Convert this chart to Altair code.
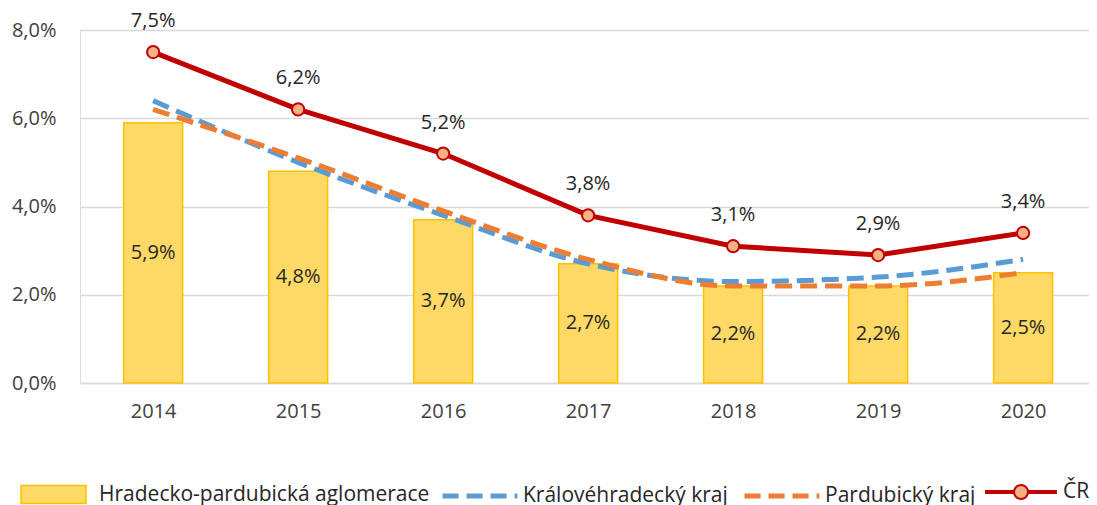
import altair as alt
import pandas as pd

years = [2014, 2015, 2016, 2017, 2018, 2019, 2020]
aglomerace = [5.9, 4.8, 3.7, 2.7, 2.2, 2.2, 2.5]
khk = [6.4, 5.0, 3.8, 2.7, 2.3, 2.4, 2.8]
pk = [6.2, 5.1, 3.9, 2.8, 2.2, 2.2, 2.5]
cr = [7.5, 6.2, 5.2, 3.8, 3.1, 2.9, 3.4]

S_AGL = "Hradecko-pardubická aglomerace"
S_KHK = "Královéhradecký kraj"
S_PK = "Pardubický kraj"
S_CR = "ČR"

FONT = "Open Sans"
LEG_Y = 431
LEG_FS = 21

bars_df = pd.DataFrame({"year": years, "value": [v / 100 for v in aglomerace], "series": S_AGL})
dash_df = pd.concat([
    pd.DataFrame({"year": years, "value": [v / 100 for v in khk], "series": S_KHK}),
    pd.DataFrame({"year": years, "value": [v / 100 for v in pk], "series": S_PK}),
])
cr_df = pd.DataFrame({"year": years, "value": [v / 100 for v in cr], "series": S_CR})

x = alt.X("year:Q", scale=alt.Scale(domain=[2013.53, 2020.42], nice=False, zero=False),
          axis=alt.Axis(values=years, format="d", title=None, grid=False, ticks=False,
                        domain=True, domainColor="#D9D9D9", domainWidth=1.5,
                        labelFontSize=20, labelColor="#404040", labelPadding=18, labelFont=FONT))
y_scale = alt.Scale(domain=[0, 0.08], nice=False)
y = alt.Y("value:Q", scale=y_scale,
          axis=alt.Axis(values=[0, 0.02, 0.04, 0.06, 0.08], title=None, ticks=False, domain=False,
                        gridColor="#D9D9D9", gridWidth=1.5, labelFontSize=20, labelColor="#404040",
                        labelPadding=24, labelFont=FONT,
                        labelExpr="replace(format(datum.value, '.1%'), '.', ',')"))

rect_path = "M-1,-0.28L1,-0.28L1,0.28L-1,0.28Z"
cr_path = ("M-1,-0.03L-0.2,-0.03L-0.2,0.03L-1,0.03Z"
           "M0.2,-0.03L1,-0.03L1,0.03L0.2,0.03Z"
           "M0.2,0A0.2,0.2,0,1,1,-0.2,0A0.2,0.2,0,1,1,0.2,0Z")

bars = alt.Chart(bars_df).mark_bar(size=59, stroke="#FFC000", strokeWidth=1.5).encode(
    x=x, y=y,
    fill=alt.Fill("series:N", scale=alt.Scale(domain=[S_AGL], range=["#FFD966"]),
                  legend=alt.Legend(title=None, orient="none", legendX=-60, legendY=LEG_Y,
                                    symbolType=rect_path, symbolSize=4225, labelOffset=12,
                                    labelFontSize=LEG_FS, labelFont=FONT, labelColor="#262626",
                                    labelLimit=0, symbolStrokeWidth=1.5, padding=0)),
)

bar_labels = alt.Chart(bars_df).transform_calculate(
    mid="datum.value / 2",
    label="replace(format(datum.value, '.1%'), '.', ',')",
).mark_text(fontSize=20, font=FONT, color="#262626", baseline="middle").encode(
    x="year:Q", y=alt.Y("mid:Q", scale=y_scale), text="label:N")

dashed = alt.Chart(dash_df).mark_line(strokeWidth=5, strokeDash=[17, 8], interpolate="monotone").encode(
    x="year:Q", y="value:Q",
    stroke=alt.Stroke("series:N", scale=alt.Scale(domain=[S_KHK, S_PK], range=["#5B9BD5", "#ED7D31"]),
                      legend=alt.Legend(title=None, orient="none", legendX=360, legendY=LEG_Y - 5,
                                        direction="horizontal", symbolType="stroke", symbolSize=5600,
                                        symbolStrokeWidth=5, symbolDash=[16, 8], labelOffset=3,
                                        columnPadding=6, labelFontSize=LEG_FS, labelFont=FONT,
                                        labelColor="#262626", labelLimit=0, padding=0)),
    detail="series:N",
)

cr_line = alt.Chart(cr_df).mark_line(strokeWidth=5, color="#C00000").encode(x="year:Q", y="value:Q")

cr_points = alt.Chart(cr_df).mark_point(filled=True, size=150, fill="#F4B183", stroke="#C00000",
                                        strokeWidth=2, opacity=1).encode(
    x="year:Q", y="value:Q",
    opacity=alt.Opacity("series:N", scale=alt.Scale(domain=[S_CR], range=[1]),
                        legend=alt.Legend(title=None, orient="none", legendX=905, legendY=LEG_Y - 5,
                                          symbolType=cr_path, symbolSize=4900, labelOffset=6,
                                          symbolStrokeWidth=2, labelFontSize=LEG_FS, labelFont=FONT,
                                          labelColor="#262626", labelLimit=0, padding=0)),
)

cr_labels = alt.Chart(cr_df).transform_calculate(
    label="replace(format(datum.value, '.1%'), '.', ',')",
).mark_text(fontSize=20, font=FONT, color="#262626", baseline="middle", dy=-31).encode(
    x="year:Q", y="value:Q", text="label:N")

chart = alt.layer(bars, bar_labels, dashed, cr_line, cr_points, cr_labels).properties(
    width=1009, height=353,
    padding={"left": 72, "top": 22, "right": 0, "bottom": 122},
    autosize=alt.AutoSizeParams(type="none"),
).configure_view(stroke=None).configure(font=FONT)

chart.save("out.html", embed_options={"renderer": "svg", "actions": False})
